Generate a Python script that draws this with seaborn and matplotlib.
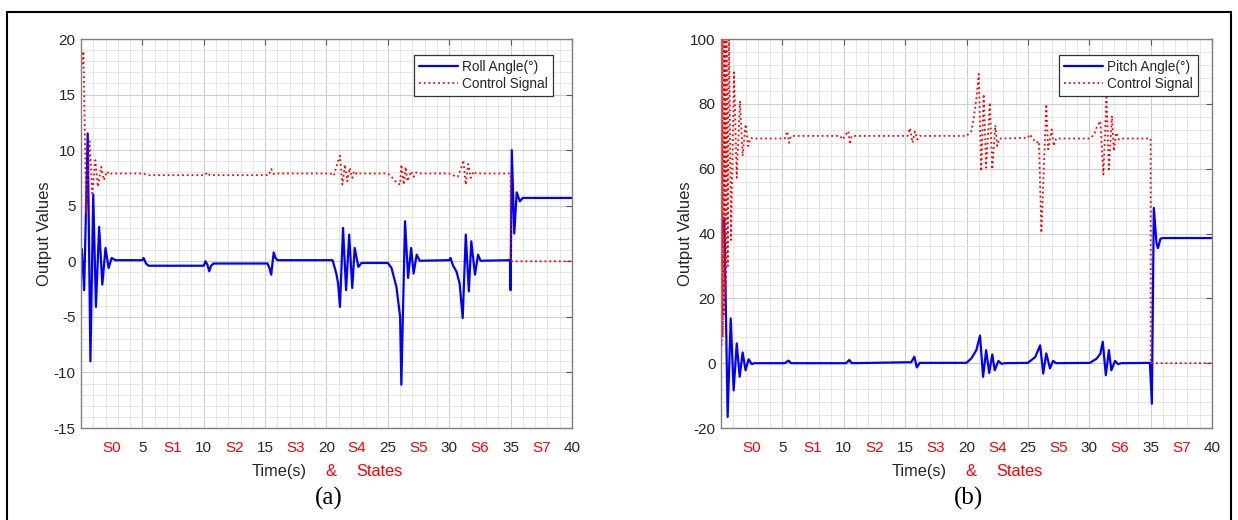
import matplotlib.pyplot as plt
import seaborn as sns
from matplotlib.ticker import MultipleLocator
from matplotlib.lines import Line2D

# values (time in s)
roll_t = [0.0, 0.07, 0.26, 0.55, 0.77, 1.0, 1.22, 1.48, 1.74, 2.0, 2.25, 2.5, 2.8,
          5.0, 5.1, 5.3, 5.5, 10.0, 10.15, 10.3, 10.45, 10.6, 10.8,
          15.2, 15.35, 15.5, 15.7, 15.85, 16.0, 20.5, 20.8, 20.95, 21.1, 21.35, 21.6,
          21.85, 22.1, 22.3, 22.6, 22.85, 25.0, 25.3, 25.7, 26.0, 26.1, 26.4, 26.65,
          26.9, 27.1, 27.35, 27.6, 30.0, 30.1, 30.3, 30.6, 30.85, 31.1, 31.35, 31.6,
          31.8, 32.1, 32.35, 32.55, 34.95, 35.0, 35.1, 35.3, 35.5, 35.75, 36.0, 40.0]
roll_v = [0.3, 1.1, -2.6, 11.5, -9.0, 6.0, -4.1, 3.1, -2.1, 1.2, -0.6, 0.3, 0.1,
          0.1, 0.3, -0.2, -0.4, -0.4, 0.0, -0.3, -0.9, -0.4, -0.2,
          -0.2, -0.6, -1.2, 0.8, 0.3, 0.1, 0.1, -1.1, -2.0, -4.1, 3.0, -2.6,
          2.4, -2.4, 1.2, -0.5, -0.15, -0.15, -0.6, -2.3, -5.0, -11.1, 3.6, -1.5,
          1.2, -1.1, 0.6, 0.05, 0.1, 0.3, -0.35, -0.95, -2.0, -5.1, 2.4, -2.7,
          1.8, -1.2, 0.6, 0.05, 0.1, -2.6, 10.0, 2.5, 6.2, 5.4, 5.7, 5.7]

roll_ctrl_t = [0.0, 0.08, 0.2, 0.43, 0.7, 0.92, 1.17, 1.38, 1.65, 1.87, 2.14, 2.3, 2.5,
               5.0, 5.5, 10.1, 10.3, 10.5, 15.3, 15.5, 15.7, 16.0, 20.3, 20.6, 20.8,
               21.1, 21.3, 21.5, 21.7, 21.9, 22.1, 22.25, 22.5, 22.7, 25.0, 25.3, 25.7,
               26.0, 26.1, 26.3, 26.45, 26.6, 26.9, 27.1, 27.3, 27.5, 30.0, 30.3, 30.7,
               31.0, 31.15, 31.35, 31.55, 31.75, 32.0, 32.2, 35.0, 35.0, 40.0]
roll_ctrl_v = [17.3, 17.5, 18.9, 4.2, 10.8, 6.1, 9.1, 6.7, 8.5, 7.3, 8.1, 7.8, 7.9,
               7.9, 7.75, 7.75, 8.0, 7.75, 7.75, 8.3, 7.85, 7.9, 7.9, 7.7, 8.5,
               9.5, 6.9, 8.7, 7.2, 8.4, 7.5, 8.1, 7.8, 7.9, 7.9, 7.6, 7.1,
               6.9, 8.7, 6.9, 8.5, 7.2, 8.1, 7.6, 8.0, 7.9, 7.9, 7.75, 7.6,
               8.5, 9.1, 6.9, 8.75, 7.5, 8.1, 7.9, 7.9, 0.0, 0.0]

pitch_t = [0.0, 0.27, 0.54, 0.79, 1.03, 1.28, 1.52, 1.76, 2.0, 2.25, 2.5, 2.7,
           5.2, 5.5, 5.7, 10.2, 10.45, 10.65, 15.5, 15.75, 15.95, 16.2,
           20.0, 20.4, 20.8, 21.1, 21.35, 21.6, 21.85, 22.1, 22.3, 22.6, 22.85, 23.1,
           25.0, 25.6, 26.0, 26.25, 26.5, 26.8, 27.05, 27.3,
           30.05, 30.6, 30.9, 31.1, 31.35, 31.6, 31.8, 32.1, 32.35, 32.6,
           34.94, 35.1, 35.26, 35.48, 35.6, 35.8, 36.0, 40.0]
pitch_v = [38.6, 44.8, -16.6, 13.8, -8.4, 6.1, -4.2, 3.3, -2.2, 1.2, -0.3, 0.0,
           0.0, 0.8, 0.0, 0.0, 1.0, 0.0, 0.3, 2.0, -1.3, 0.1,
           0.1, 1.5, 4.0, 8.5, -4.2, 4.0, -3.0, 2.7, -2.2, 0.7, -0.2, 0.0,
           0.1, 1.9, 5.5, -3.2, 3.0, -1.6, 0.7, 0.0,
           0.1, 1.4, 2.9, 6.6, -3.7, 4.0, -2.2, 0.7, -0.3, 0.0,
           0.1, -12.5, 47.9, 37.0, 35.5, 38.4, 38.6, 38.6]

pitch_ctrl_t = [0.0, 0.05, 0.1, 0.15, 0.2, 0.25, 0.3, 0.38, 0.45, 0.55, 0.65, 0.81,
                1.06, 1.28, 1.55, 1.76, 2.0, 2.22, 2.42, 2.6, 5.2, 5.3, 5.4, 5.55, 5.7,
                9.7, 9.9, 10.37, 10.5, 10.65, 15.2, 15.4, 15.6, 15.8, 16.0, 16.2,
                20.0, 20.4, 20.55, 20.8, 21.0, 21.2, 21.4, 21.6, 21.9, 22.1, 22.35, 22.5,
                22.7, 25.0, 25.15, 25.5, 25.7, 25.9, 26.1, 26.5, 26.65, 26.95, 27.1, 27.3,
                30.05, 30.4, 30.6, 30.9, 31.15, 31.4, 31.6, 31.85, 32.0, 32.2, 32.4, 32.6,
                35.0, 35.0, 40.0]
pitch_ctrl_v = [105, 5.6, 105, 8.0, 105, 15.0, 105, 20.0, 105, 30.0, 105, 38.0,
                89.7, 57.2, 80.9, 63.9, 73.7, 67.0, 69.5, 69.3, 69.3, 70.6, 71.5, 68.0, 70.1,
                70.1, 69.0, 71.6, 67.5, 70.1, 70.1, 72.5, 68.0, 71.5, 69.0, 70.1,
                70.1, 71.6, 74.7, 81.4, 89.2, 59.2, 83.0, 60.3, 80.4, 59.8, 73.4, 67.0,
                69.3, 69.5, 70.6, 68.8, 68.0, 68.5, 40.2, 79.9, 66.0, 72.1, 67.0, 69.3,
                69.3, 70.5, 72.7, 74.7, 58.2, 82.0, 59.8, 76.3, 65.4, 71.1, 69.0, 69.3,
                69.3, 0.0, 0.0]

time_ticks = [5, 10, 15, 20, 25, 30, 35, 40]
state_pos = [2.5, 7.5, 12.5, 17.5, 22.5, 27.5, 32.5, 37.5]
state_labels = ['S0', 'S1', 'S2', 'S3', 'S4', 'S5', 'S6', 'S7']

sns.set_style("white")
plt.rcParams['font.family'] = ['Liberation Sans', 'DejaVu Sans']
plt.rcParams['axes.unicode_minus'] = False

fig = plt.figure(figsize=(12.38, 5.2), dpi=100)
ax_a = fig.add_axes([0.0654, 0.1769, 0.3966, 0.7481])
ax_b = fig.add_axes([0.5824, 0.1769, 0.3966, 0.7481])


def draw_panel(ax, t, v, ct, cv, name, ylim, ymaj, ymin, leg_x, ypad, caption):
    sns.lineplot(x=t, y=v, ax=ax, color='#0000ff', lw=1.6, estimator=None,
                 sort=False, label=name)
    sns.lineplot(x=ct, y=cv, ax=ax, color='#ff0000', lw=1.3, linestyle=':',
                 estimator=None, sort=False, label='Control Signal')
    ax.set_xlim(0, 40)
    ax.set_ylim(*ylim)
    ax.set_xticks(time_ticks)
    ax.xaxis.set_minor_locator(MultipleLocator(1))
    ax.yaxis.set_major_locator(MultipleLocator(ymaj))
    ax.yaxis.set_minor_locator(MultipleLocator(ymin))
    ax.set_axisbelow(True)
    ax.grid(which='major', color='#cfcfcf', lw=0.8)
    ax.grid(which='minor', color='#e3e3e3', lw=0.6)
    ax.tick_params(which='major', direction='in', length=4, top=True, right=True,
                   color='#555555', labelsize=11, labelcolor='#262626', pad=9.5)
    ax.tick_params(axis='y', pad=4)
    ax.tick_params(which='minor', length=0)
    for s in ax.spines.values():
        s.set_color('#808080')
        s.set_linewidth(1.0)
    for p, lab in zip(state_pos, state_labels):
        ax.text(p, -0.052, lab, transform=ax.get_xaxis_transform(), color='red',
                ha='center', va='center', fontsize=11)
    ax.set_xlabel('')
    ax.set_ylabel('Output Values', fontsize=12, color='#262626', labelpad=ypad)
    ax.text(0.4045, -0.113, 'Time(s)', transform=ax.transAxes, ha='center',
            va='center', fontsize=11.8, color='#262626')
    ax.text(0.509, -0.113, '&', transform=ax.transAxes, ha='center',
            va='center', fontsize=11.8, color='red')
    ax.text(0.607, -0.113, 'States', transform=ax.transAxes, ha='center',
            va='center', fontsize=11.8, color='red')
    ax.text(0.505, -0.18, caption, transform=ax.transAxes, ha='center',
            va='center', fontsize=18, family='Liberation Serif', color='black')
    leg = ax.legend(loc='upper right', bbox_to_anchor=(leg_x, 0.959),
                    fontsize=9.8, handlelength=2.9, fancybox=False, framealpha=1,
                    edgecolor='#333333', borderpad=0.35, labelspacing=0.25,
                    handletextpad=0.3, borderaxespad=0)
    leg.get_frame().set_linewidth(0.9)


draw_panel(ax_a, roll_t, roll_v, roll_ctrl_t, roll_ctrl_v, 'Roll Angle(°)',
           (-15, 20), 5, 1, 0.961, 1, '(a)')
draw_panel(ax_b, pitch_t, pitch_v, pitch_ctrl_t, pitch_ctrl_v, 'Pitch Angle(°)',
           (-20, 100), 20, 4, 0.971, -2, '(b)')

# outer frame of the figure (left, top, right edges)
for xs, ys in [([0.0057, 0.0057], [0.0, 0.977]), ([0.0057, 0.9943], [0.977, 0.977]),
               ([0.9943, 0.9943], [0.0, 0.977])]:
    fig.add_artist(Line2D(xs, ys, color='black', lw=1.5, transform=fig.transFigure))

fig.savefig('out.png', dpi=100)
